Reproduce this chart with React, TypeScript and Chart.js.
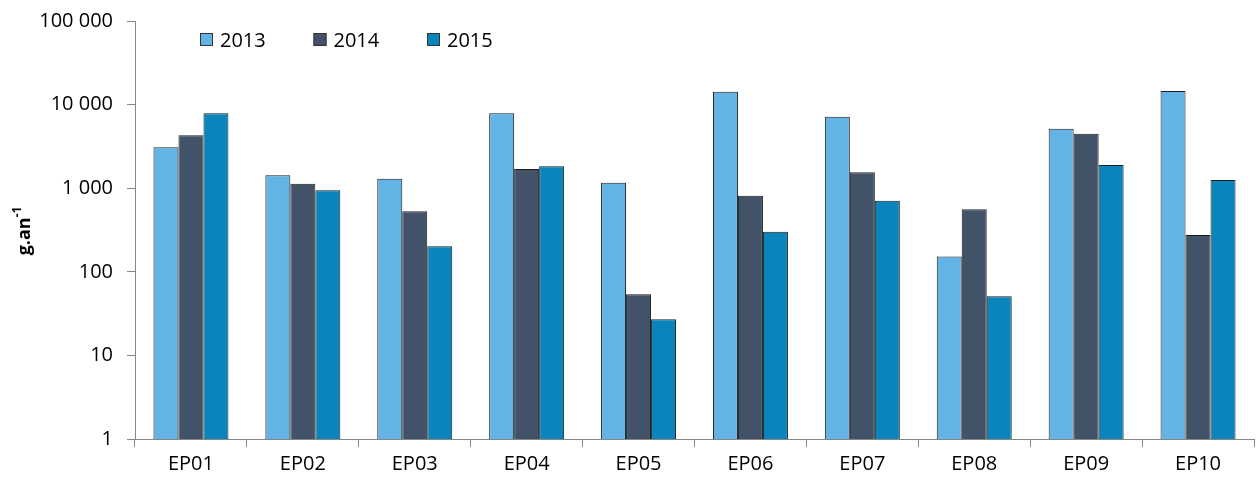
import React, { useEffect, useRef } from "react";
import { Chart, registerables } from "chart.js";

Chart.register(...registerables);

const categories = ["EP01", "EP02", "EP03", "EP04", "EP05", "EP06", "EP07", "EP08", "EP09", "EP10"];
const seriesNames = ["2013", "2014", "2015"];
const values2013 = [3085, 1427, 1300, 7870, 1164, 14260, 7160, 152, 5150, 14550];
const values2014 = [4300, 1132, 530, 1697, 54, 813, 1550, 560, 4490, 275];
const values2015 = [7870, 944, 202, 1828, 27, 302, 709, 51, 1895, 1253];
const yTicks = [1, 10, 100, 1000, 10000, 100000];
const colors = ["#64B3E5", "#425369", "#0A85BC"];
const FONT = "'Open Sans', sans-serif";

function fmt(v: number): string {
  return String(Math.round(v)).replace(/\B(?=(\d{3})+(?!\d))/g, " ");
}

const overlay = {
  id: "overlay",
  afterDraw(chart: any) {
    const ctx = chart.ctx as CanvasRenderingContext2D;
    ctx.save();
    // legend
    const startX = chart.chartArea.left + 65;
    const step = 113.5;
    const cy = 40;
    ctx.font = `20px ${FONT}`;
    ctx.textBaseline = "middle";
    ctx.textAlign = "left";
    seriesNames.forEach((name, i) => {
      const x = startX + i * step;
      ctx.fillStyle = colors[i];
      ctx.fillRect(x, cy - 7, 13, 13);
      ctx.strokeStyle = "#333";
      ctx.lineWidth = 1;
      ctx.strokeRect(x + 0.5, cy - 6.5, 12, 12);
      ctx.fillStyle = "#000";
      ctx.fillText(name, x + 20, cy + 1);
    });
    // y-axis title
    ctx.translate(24, 231);
    ctx.rotate(-Math.PI / 2);
    ctx.font = `bold 18px ${FONT}`;
    const main = "g.an";
    const sup = "-1";
    const wMain = ctx.measureText(main).width;
    ctx.font = `bold 12px ${FONT}`;
    const wSup = ctx.measureText(sup).width;
    const total = wMain + wSup;
    ctx.textBaseline = "alphabetic";
    ctx.fillStyle = "#000";
    ctx.font = `bold 18px ${FONT}`;
    ctx.fillText(main, -total / 2, 6);
    ctx.font = `bold 12px ${FONT}`;
    ctx.fillText(sup, -total / 2 + wMain, -3);
    ctx.restore();
  },
};

export default function App() {
  const ref = useRef<HTMLCanvasElement | null>(null);
  useEffect(() => {
    document.body.style.margin = "0";
    if (!ref.current) return;
    const datasets = [values2013, values2014, values2015].map((vals, i) => ({
      label: seriesNames[i],
      data: vals,
      backgroundColor: colors[i],
      borderColor: "#1e1e1e",
      borderWidth: 1,
      categoryPercentage: 0.67,
      barPercentage: 1.0,
    }));
    const chart = new Chart(ref.current, {
      type: "bar",
      data: { labels: categories, datasets },
      options: {
        animation: false,
        responsive: false,
        maintainAspectRatio: false,
        layout: { padding: { top: 21, right: 3, left: 0, bottom: 0 } },
        plugins: { legend: { display: false }, tooltip: { enabled: false } },
        scales: {
          x: {
            type: "category",
            offset: true,
            grid: { display: true, drawOnChartArea: false, tickLength: 8, color: "#868686", offset: true },
            border: { color: "#868686" },
            ticks: { font: { family: FONT, size: 20 }, color: "#000", padding: 5, maxRotation: 0 },
            afterFit: (s: any) => {
              s.height = 44;
              s.paddingLeft = 0;
              s.paddingRight = 0;
            },
          },
          y: {
            type: "logarithmic",
            min: 1,
            max: 100000,
            afterBuildTicks: (s: any) => {
              s.ticks = yTicks.map((v) => ({ value: v }));
            },
            grid: { drawOnChartArea: false, tickLength: 8, color: "#868686" },
            border: { color: "#868686" },
            ticks: {
              font: { family: FONT, size: 20 },
              color: "#000",
              padding: 14,
              callback: (v: any) => fmt(Number(v)),
            },
            afterFit: (s: any) => {
              s.width = 135;
              s.paddingTop = 0;
              s.paddingBottom = 0;
            },
          },
        },
      },
      plugins: [overlay],
    } as any);
    return () => chart.destroy();
  }, []);
  return (
    <div style={{ width: 1257, height: 483 }}>
      <canvas ref={ref} width={1257} height={483} style={{ display: "block" }} />
    </div>
  );
}
